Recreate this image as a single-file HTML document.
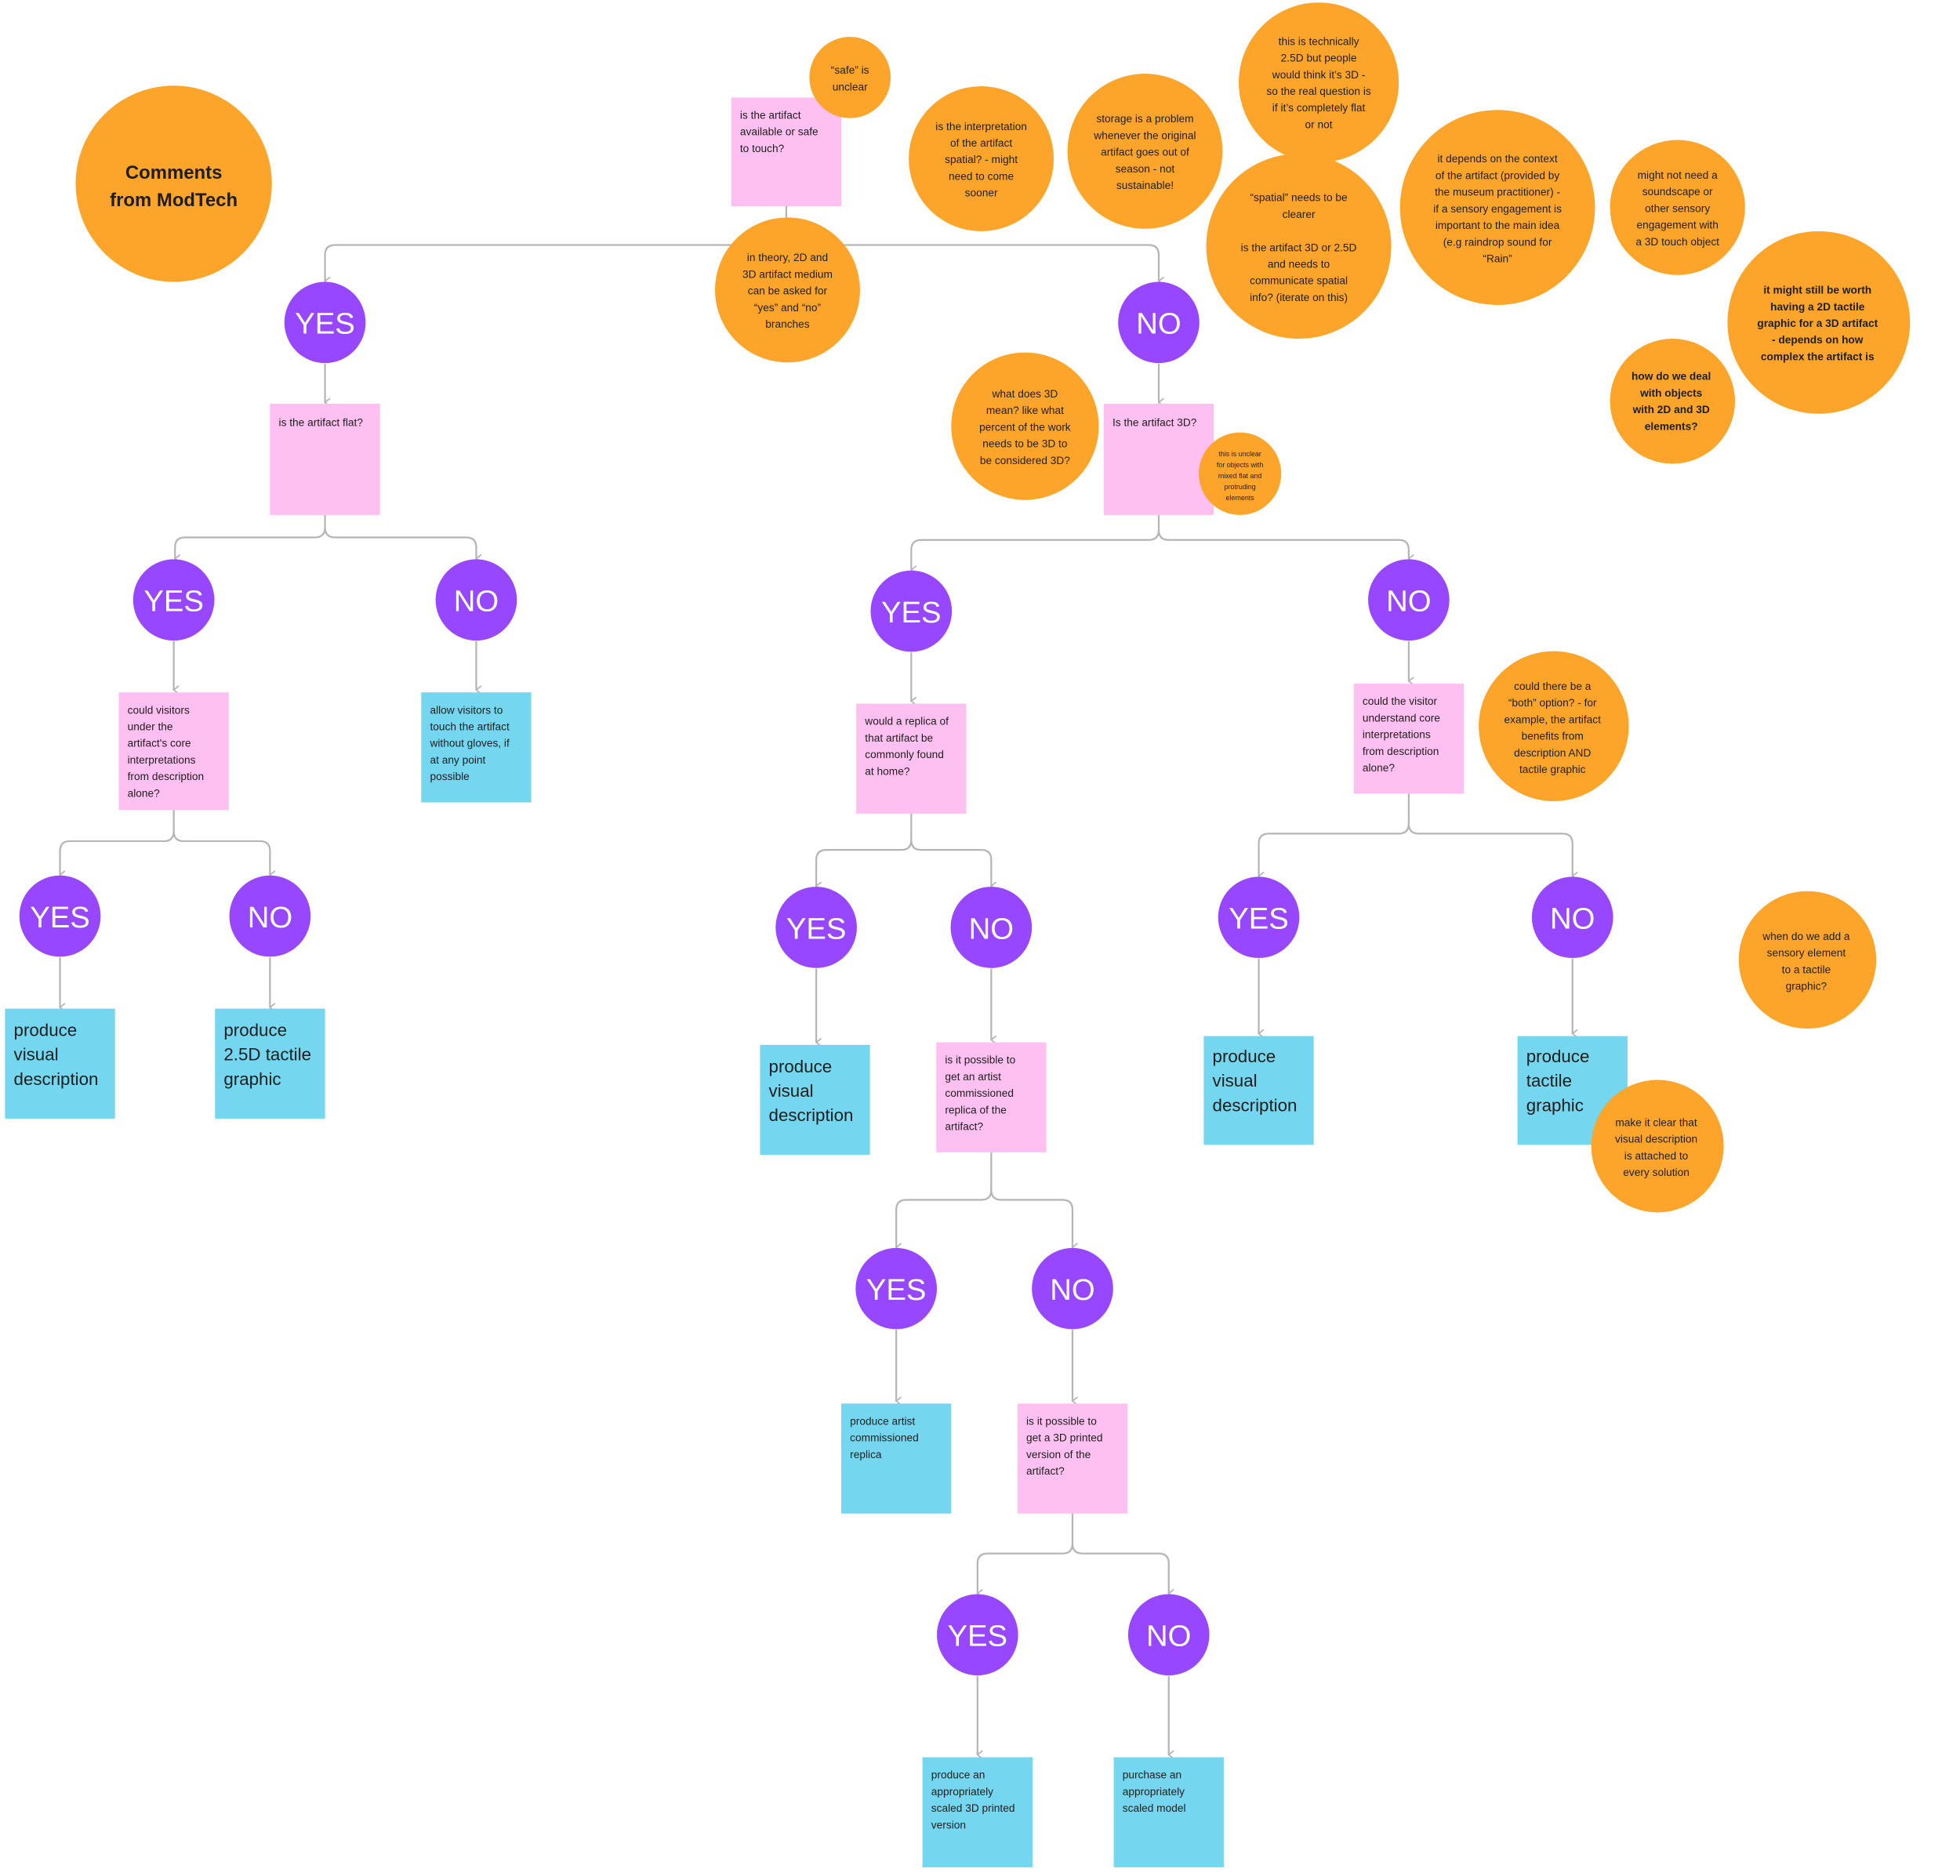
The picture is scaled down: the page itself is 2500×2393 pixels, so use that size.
<!DOCTYPE html>
<html><head><meta charset="utf-8"><style>
html,body{margin:0;padding:0;background:#fff;}
svg{display:block;}
text{font-family:"Liberation Sans",sans-serif;fill:#1e1e1e;}
.c{fill:#FDA52B;}
.p{fill:#9747FF;}
.k{fill:#FEBFF1;}
.b{fill:#74D6EF;}
.yn{fill:#fff;font-size:24px;text-anchor:middle;}
.s{font-size:8.6px;text-anchor:middle;}
.t{font-size:8.6px;}
.big{font-size:14px;}
.ln{fill:none;stroke:#b5b5b5;stroke-width:1.4;}
</style></head><body>
<svg width="2500" height="2393" viewBox="0 0 1568 1501" preserveAspectRatio="none" xmlns="http://www.w3.org/2000/svg">
<defs><marker id="a" viewBox="0 0 10 10" refX="5" refY="8" markerWidth="8" markerHeight="8" orient="auto-start-reverse" markerUnits="userSpaceOnUse"><path d="M1 3 L5 8 L9 3" fill="none" stroke="#b5b5b5" stroke-width="1.4"/></marker></defs>

<!-- connectors -->
<path class="ln" d="M629 165 V196"/>
<path class="ln" marker-end="url(#a)" d="M629 196 H268 Q260 196 260 204 V225"/>
<path class="ln" marker-end="url(#a)" d="M629 196 H919 Q927 196 927 204 V225"/>
<path class="ln" marker-end="url(#a)" d="M260 291 V322"/>
<path class="ln" marker-end="url(#a)" d="M927 291 V322"/>
<path class="ln" marker-end="url(#a)" d="M260 412 V422 Q260 430 252 430 H148 Q140 430 140 438 V447"/>
<path class="ln" marker-end="url(#a)" d="M260 422 Q260 430 268 430 H373 Q381 430 381 438 V447"/>
<path class="ln" marker-end="url(#a)" d="M139 513 V552"/>
<path class="ln" marker-end="url(#a)" d="M381 513 V552"/>
<path class="ln" marker-end="url(#a)" d="M139 648 V665 Q139 673 131 673 H56 Q48 673 48 681 V700"/>
<path class="ln" marker-end="url(#a)" d="M139 665 Q139 673 147 673 H208 Q216 673 216 681 V700"/>
<path class="ln" marker-end="url(#a)" d="M48 766 V806"/>
<path class="ln" marker-end="url(#a)" d="M216 766 V806"/>
<path class="ln" marker-end="url(#a)" d="M927 412 V424 Q927 432 919 432 H737 Q729 432 729 440 V456"/>
<path class="ln" marker-end="url(#a)" d="M927 424 Q927 432 935 432 H1119 Q1127 432 1127 440 V447"/>
<path class="ln" marker-end="url(#a)" d="M729 522 V561"/>
<path class="ln" marker-end="url(#a)" d="M1127 513 V545"/>
<path class="ln" marker-end="url(#a)" d="M729 651 V672 Q729 680 721 680 H661 Q653 680 653 688 V709"/>
<path class="ln" marker-end="url(#a)" d="M729 672 Q729 680 737 680 H785 Q793 680 793 688 V709"/>
<path class="ln" marker-end="url(#a)" d="M653 775 V834"/>
<path class="ln" marker-end="url(#a)" d="M793 775 V832"/>
<path class="ln" marker-end="url(#a)" d="M793 922 V952 Q793 960 785 960 H725 Q717 960 717 968 V998"/>
<path class="ln" marker-end="url(#a)" d="M793 952 Q793 960 801 960 H850 Q858 960 858 968 V998"/>
<path class="ln" marker-end="url(#a)" d="M717 1064 V1121"/>
<path class="ln" marker-end="url(#a)" d="M858 1064 V1121"/>
<path class="ln" marker-end="url(#a)" d="M858 1211 V1235 Q858 1243 850 1243 H790 Q782 1243 782 1251 V1275"/>
<path class="ln" marker-end="url(#a)" d="M858 1235 Q858 1243 866 1243 H927 Q935 1243 935 1251 V1275"/>
<path class="ln" marker-end="url(#a)" d="M782 1341 V1404"/>
<path class="ln" marker-end="url(#a)" d="M935 1341 V1404"/>
<path class="ln" marker-end="url(#a)" d="M1127 635 V659 Q1127 667 1119 667 H1015 Q1007 667 1007 675 V701"/>
<path class="ln" marker-end="url(#a)" d="M1127 659 Q1127 667 1135 667 H1250 Q1258 667 1258 675 V701"/>
<path class="ln" marker-end="url(#a)" d="M1007 767 V827"/>
<path class="ln" marker-end="url(#a)" d="M1258 767 V827"/>

<!-- pink boxes -->
<rect class="k" x="585" y="78" width="88" height="87"/>
<text class="t" x="592" y="95"><tspan x="592">is the artifact</tspan><tspan x="592" dy="13.3">available or safe</tspan><tspan x="592" dy="13.3">to touch?</tspan></text>
<rect class="k" x="216" y="323" width="88" height="89"/>
<text class="t" x="223" y="341">is the artifact flat?</text>
<rect class="k" x="883" y="323" width="88" height="89"/>
<text class="t" x="890" y="341">Is the artifact 3D?</text>
<rect class="k" x="95" y="554" width="88" height="94"/>
<text class="t" x="102" y="571"><tspan x="102">could visitors</tspan><tspan x="102" dy="13.3">under the</tspan><tspan x="102" dy="13.3">artifact's core</tspan><tspan x="102" dy="13.3">interpretations</tspan><tspan x="102" dy="13.3">from description</tspan><tspan x="102" dy="13.3">alone?</tspan></text>
<rect class="k" x="685" y="563" width="88" height="88"/>
<text class="t" x="692" y="580"><tspan x="692">would a replica of</tspan><tspan x="692" dy="13.3">that artifact be</tspan><tspan x="692" dy="13.3">commonly found</tspan><tspan x="692" dy="13.3">at home?</tspan></text>
<rect class="k" x="749" y="834" width="88" height="88"/>
<text class="t" x="756" y="851"><tspan x="756">is it possible to</tspan><tspan x="756" dy="13.3">get an artist</tspan><tspan x="756" dy="13.3">commissioned</tspan><tspan x="756" dy="13.3">replica of the</tspan><tspan x="756" dy="13.3">artifact?</tspan></text>
<rect class="k" x="814" y="1123" width="88" height="88"/>
<text class="t" x="821" y="1140"><tspan x="821">is it possible to</tspan><tspan x="821" dy="13.3">get a 3D printed</tspan><tspan x="821" dy="13.3">version of the</tspan><tspan x="821" dy="13.3">artifact?</tspan></text>
<rect class="k" x="1083" y="547" width="88" height="88"/>
<text class="t" x="1090" y="564"><tspan x="1090">could the visitor</tspan><tspan x="1090" dy="13.3">understand core</tspan><tspan x="1090" dy="13.3">interpretations</tspan><tspan x="1090" dy="13.3">from description</tspan><tspan x="1090" dy="13.3">alone?</tspan></text>

<!-- blue boxes -->
<rect class="b" x="337" y="554" width="88" height="88"/>
<text class="t" x="344" y="571"><tspan x="344">allow visitors to</tspan><tspan x="344" dy="13.3">touch the artifact</tspan><tspan x="344" dy="13.3">without gloves, if</tspan><tspan x="344" dy="13.3">at any point</tspan><tspan x="344" dy="13.3">possible</tspan></text>
<rect class="b" x="4" y="807" width="88" height="88"/>
<text class="big" x="11" y="829"><tspan x="11">produce</tspan><tspan x="11" dy="19.5">visual</tspan><tspan x="11" dy="19.5">description</tspan></text>
<rect class="b" x="172" y="807" width="88" height="88"/>
<text class="big" x="179" y="829"><tspan x="179">produce</tspan><tspan x="179" dy="19.5">2.5D tactile</tspan><tspan x="179" dy="19.5">graphic</tspan></text>
<rect class="b" x="608" y="836" width="88" height="88"/>
<text class="big" x="615" y="858"><tspan x="615">produce</tspan><tspan x="615" dy="19.5">visual</tspan><tspan x="615" dy="19.5">description</tspan></text>
<rect class="b" x="673" y="1123" width="88" height="88"/>
<text class="t" x="680" y="1140"><tspan x="680">produce artist</tspan><tspan x="680" dy="13.3">commissioned</tspan><tspan x="680" dy="13.3">replica</tspan></text>
<rect class="b" x="738" y="1406" width="88" height="88"/>
<text class="t" x="745" y="1423"><tspan x="745">produce an</tspan><tspan x="745" dy="13.3">appropriately</tspan><tspan x="745" dy="13.3">scaled 3D printed</tspan><tspan x="745" dy="13.3">version</tspan></text>
<rect class="b" x="891" y="1406" width="88" height="88"/>
<text class="t" x="898" y="1423"><tspan x="898">purchase an</tspan><tspan x="898" dy="13.3">appropriately</tspan><tspan x="898" dy="13.3">scaled model</tspan></text>
<rect class="b" x="963" y="829" width="88" height="87"/>
<text class="big" x="970" y="850"><tspan x="970">produce</tspan><tspan x="970" dy="19.5">visual</tspan><tspan x="970" dy="19.5">description</tspan></text>
<rect class="b" x="1214" y="829" width="88" height="87"/>
<text class="big" x="1221" y="850"><tspan x="1221">produce</tspan><tspan x="1221" dy="19.5">tactile</tspan><tspan x="1221" dy="19.5">graphic</tspan></text>

<!-- purple -->
<g>
<circle class="p" cx="260" cy="258" r="32.5"/><text class="yn" x="260" y="267">YES</text>
<circle class="p" cx="927" cy="258" r="32.5"/><text class="yn" x="927" y="267">NO</text>
<circle class="p" cx="139" cy="480" r="32.5"/><text class="yn" x="139" y="489">YES</text>
<circle class="p" cx="381" cy="480" r="32.5"/><text class="yn" x="381" y="489">NO</text>
<circle class="p" cx="48" cy="733" r="32.5"/><text class="yn" x="48" y="742">YES</text>
<circle class="p" cx="216" cy="733" r="32.5"/><text class="yn" x="216" y="742">NO</text>
<circle class="p" cx="729" cy="489" r="32.5"/><text class="yn" x="729" y="498">YES</text>
<circle class="p" cx="1127" cy="480" r="32.5"/><text class="yn" x="1127" y="489">NO</text>
<circle class="p" cx="653" cy="742" r="32.5"/><text class="yn" x="653" y="751">YES</text>
<circle class="p" cx="793" cy="742" r="32.5"/><text class="yn" x="793" y="751">NO</text>
<circle class="p" cx="717" cy="1031" r="32.5"/><text class="yn" x="717" y="1040">YES</text>
<circle class="p" cx="858" cy="1031" r="32.5"/><text class="yn" x="858" y="1040">NO</text>
<circle class="p" cx="782" cy="1308" r="32.5"/><text class="yn" x="782" y="1317">YES</text>
<circle class="p" cx="935" cy="1308" r="32.5"/><text class="yn" x="935" y="1317">NO</text>
<circle class="p" cx="1007" cy="734" r="32.5"/><text class="yn" x="1007" y="743">YES</text>
<circle class="p" cx="1258" cy="734" r="32.5"/><text class="yn" x="1258" y="743">NO</text>
</g>

<!-- orange comments -->
<circle class="c" cx="139" cy="147" r="78.5"/>
<text x="139" y="143" style="font-size:15px;font-weight:bold;text-anchor:middle"><tspan x="139">Comments</tspan><tspan x="139" dy="22">from ModTech</tspan></text>

<circle class="c" cx="680" cy="62" r="32.5"/>
<text class="s" x="680" y="59"><tspan x="680">“safe” is</tspan><tspan x="680" dy="13.3">unclear</tspan></text>

<circle class="c" cx="630" cy="232" r="58"/>
<text class="s" x="630" y="209"><tspan x="630">in theory, 2D and</tspan><tspan x="630" dy="13.3">3D artifact medium</tspan><tspan x="630" dy="13.3">can be asked for</tspan><tspan x="630" dy="13.3">“yes” and “no”</tspan><tspan x="630" dy="13.3">branches</tspan></text>

<circle class="c" cx="785" cy="127" r="58"/>
<text class="s" x="785" y="104"><tspan x="785">is the interpretation</tspan><tspan x="785" dy="13.3">of the artifact</tspan><tspan x="785" dy="13.3">spatial? - might</tspan><tspan x="785" dy="13.3">need to come</tspan><tspan x="785" dy="13.3">sooner</tspan></text>

<circle class="c" cx="916" cy="121" r="62"/>
<text class="s" x="916" y="98"><tspan x="916">storage is a problem</tspan><tspan x="916" dy="13.3">whenever the original</tspan><tspan x="916" dy="13.3">artifact goes out of</tspan><tspan x="916" dy="13.3">season - not</tspan><tspan x="916" dy="13.3">sustainable!</tspan></text>

<circle class="c" cx="1055" cy="66" r="64"/>
<text class="s" x="1055" y="36"><tspan x="1055">this is technically</tspan><tspan x="1055" dy="13.3">2.5D but people</tspan><tspan x="1055" dy="13.3">would think it’s 3D -</tspan><tspan x="1055" dy="13.3">so the real question is</tspan><tspan x="1055" dy="13.3">if it’s completely flat</tspan><tspan x="1055" dy="13.3">or not</tspan></text>

<circle class="c" cx="1039" cy="197" r="74"/>
<text class="s" x="1039" y="161"><tspan x="1039">“spatial” needs to be</tspan><tspan x="1039" dy="13.3">clearer</tspan><tspan x="1039" dy="26.6">is the artifact 3D or 2.5D</tspan><tspan x="1039" dy="13.3">and needs to</tspan><tspan x="1039" dy="13.3">communicate spatial</tspan><tspan x="1039" dy="13.3">info? (iterate on this)</tspan></text>

<circle class="c" cx="1198" cy="166" r="78"/>
<text class="s" x="1198" y="130"><tspan x="1198">it depends on the context</tspan><tspan x="1198" dy="13.3">of the artifact (provided by</tspan><tspan x="1198" dy="13.3">the museum practitioner) -</tspan><tspan x="1198" dy="13.3">if a sensory engagement is</tspan><tspan x="1198" dy="13.3">important to the main idea</tspan><tspan x="1198" dy="13.3">(e.g raindrop sound for</tspan><tspan x="1198" dy="13.3">“Rain”</tspan></text>

<circle class="c" cx="1342" cy="166" r="54"/>
<text class="s" x="1342" y="143"><tspan x="1342">might not need a</tspan><tspan x="1342" dy="13.3">soundscape or</tspan><tspan x="1342" dy="13.3">other sensory</tspan><tspan x="1342" dy="13.3">engagement with</tspan><tspan x="1342" dy="13.3">a 3D touch object</tspan></text>

<circle class="c" cx="1455" cy="258" r="73"/>
<text class="s" x="1454" y="235" style="font-weight:bold"><tspan x="1454">it might still be worth</tspan><tspan x="1454" dy="13.3">having a 2D tactile</tspan><tspan x="1454" dy="13.3">graphic for a 3D artifact</tspan><tspan x="1454" dy="13.3">- depends on how</tspan><tspan x="1454" dy="13.3">complex the artifact is</tspan></text>

<circle class="c" cx="1338" cy="321" r="50"/>
<text class="s" x="1337" y="304" style="font-weight:bold"><tspan x="1337">how do we deal</tspan><tspan x="1337" dy="13.3">with objects</tspan><tspan x="1337" dy="13.3">with 2D and 3D</tspan><tspan x="1337" dy="13.3">elements?</tspan></text>

<circle class="c" cx="820" cy="341" r="59"/>
<text class="s" x="820" y="318"><tspan x="820">what does 3D</tspan><tspan x="820" dy="13.3">mean? like what</tspan><tspan x="820" dy="13.3">percent of the work</tspan><tspan x="820" dy="13.3">needs to be 3D to</tspan><tspan x="820" dy="13.3">be considered 3D?</tspan></text>

<circle class="c" cx="992" cy="379" r="33"/>
<text x="992" y="365" style="font-size:5.6px;text-anchor:middle"><tspan x="992">this is unclear</tspan><tspan x="992" dy="8.8">for objects with</tspan><tspan x="992" dy="8.8">mixed flat and</tspan><tspan x="992" dy="8.8">protruding</tspan><tspan x="992" dy="8.8">elements</tspan></text>

<circle class="c" cx="1243" cy="581" r="60"/>
<text class="s" x="1242" y="552"><tspan x="1242">could there be a</tspan><tspan x="1242" dy="13.3">“both” option? - for</tspan><tspan x="1242" dy="13.3">example, the artifact</tspan><tspan x="1242" dy="13.3">benefits from</tspan><tspan x="1242" dy="13.3">description AND</tspan><tspan x="1242" dy="13.3">tactile graphic</tspan></text>

<circle class="c" cx="1446" cy="768" r="55"/>
<text class="s" x="1445" y="752"><tspan x="1445">when do we add a</tspan><tspan x="1445" dy="13.3">sensory element</tspan><tspan x="1445" dy="13.3">to a tactile</tspan><tspan x="1445" dy="13.3">graphic?</tspan></text>

<circle class="c" cx="1326" cy="917" r="53"/>
<text class="s" x="1325" y="901"><tspan x="1325">make it clear that</tspan><tspan x="1325" dy="13.3">visual description</tspan><tspan x="1325" dy="13.3">is attached to</tspan><tspan x="1325" dy="13.3">every solution</tspan></text>
</svg>
</body></html>
